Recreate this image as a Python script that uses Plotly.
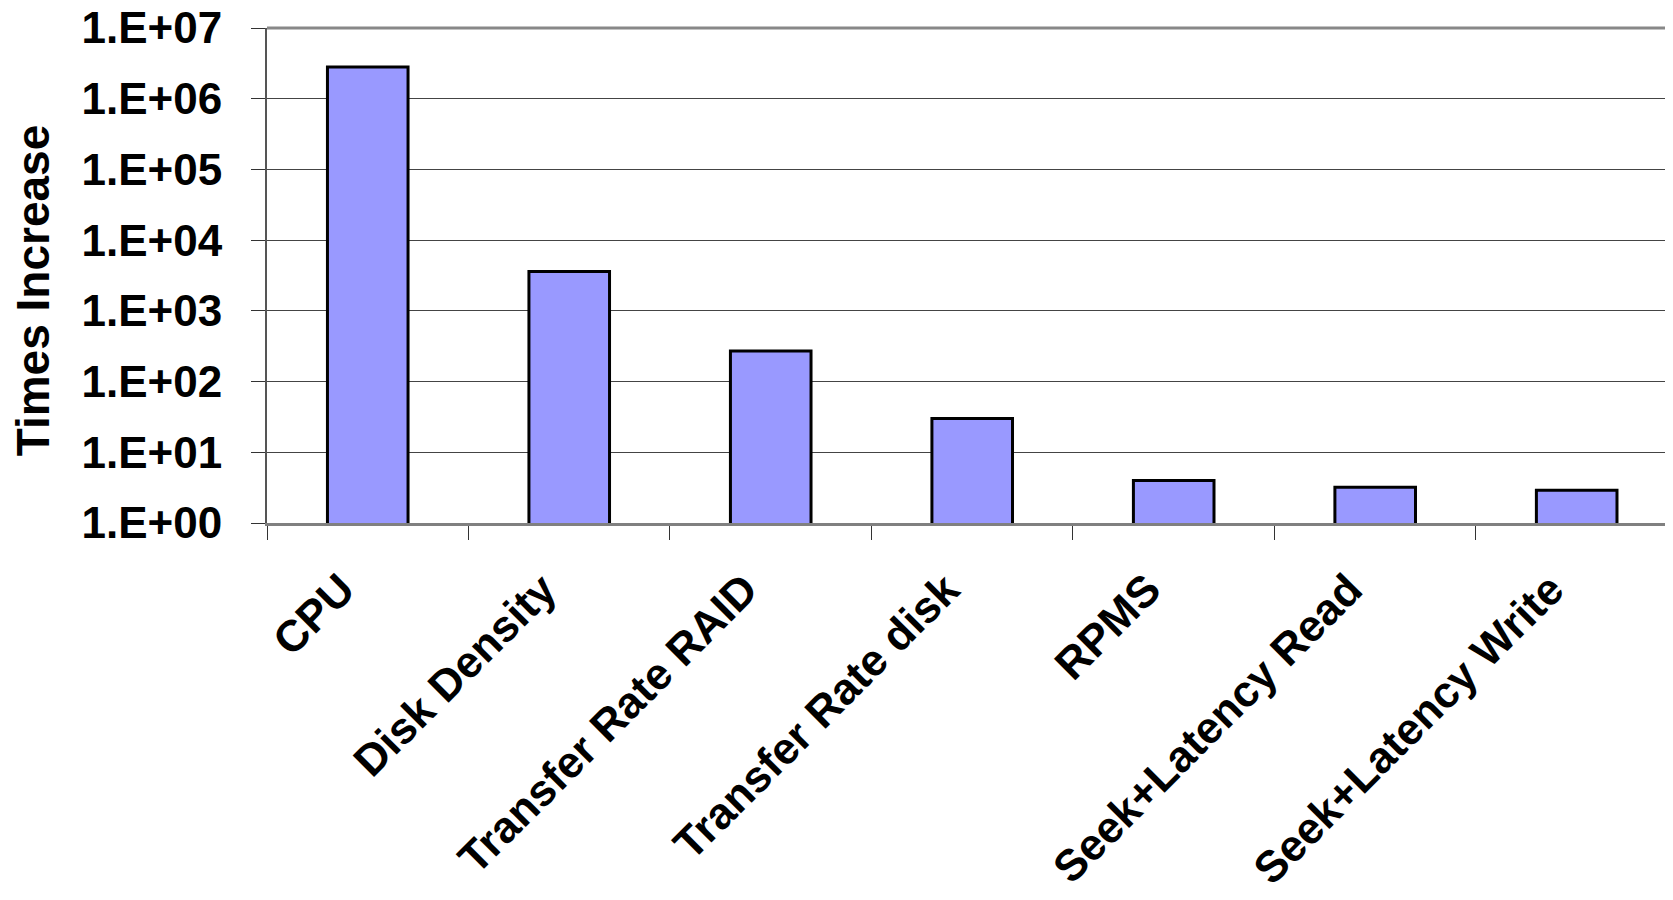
import plotly.graph_objects as go

categories = ["CPU", "Disk Density", "Transfer Rate RAID", "Transfer Rate disk",
              "RPMS", "Seek+Latency Read", "Seek+Latency Write"]
values = [2.8e6, 3600, 270, 30, 4.0, 3.2, 2.9]
y_tickvals = [1, 10, 100, 1e3, 1e4, 1e5, 1e6, 1e7]
y_ticktext = ["1.E+00", "1.E+01", "1.E+02", "1.E+03", "1.E+04", "1.E+05", "1.E+06", "1.E+07"]
y_title = "Times Increase"

FONT = "Liberation Sans, Arial, sans-serif"

fig = go.Figure()
fig.add_trace(go.Bar(
    x=categories, y=values,
    marker=dict(color="#9999FF", line=dict(color="black", width=3)),
))

fig.update_layout(
    width=1665, height=892,
    margin=dict(l=259, r=0, t=20, b=377),
    paper_bgcolor="white", plot_bgcolor="white",
    bargap=0.6, showlegend=False,
    font=dict(family=FONT, size=44, color="black", weight="bold"),
)
fig.update_xaxes(
    range=[-0.5, 6.478], automargin=False,
    tickangle=-45, tickson="boundaries", ticks="outside", ticklen=14,
    tickcolor="#333333", tickwidth=1,
    ticklabelstandoff=20, ticklabelshift=-26,
    showline=True, linecolor="#808080", linewidth=3,
    tickfont=dict(family=FONT, size=44, color="black", weight="bold"),
    showgrid=False,
)
fig.update_yaxes(
    type="log", range=[0, 7], automargin=False,
    tickvals=y_tickvals, ticktext=y_ticktext,
    ticks="outside", ticklen=14, tickcolor="#333333", tickwidth=1,
    ticklabelstandoff=20, ticklabeloverflow="allow",
    showline=True, linecolor="#555555", linewidth=2,
    showgrid=True, gridcolor="#444444", gridwidth=1,
    tickfont=dict(family=FONT, size=44, color="black", weight="bold"),
    zeroline=False,
)
# top border line (drawn heavier like the original)
fig.add_shape(type="line", xref="paper", yref="paper", x0=0, x1=1, y0=1, y1=1,
              line=dict(color="#888888", width=3))
fig.add_annotation(
    text=y_title, textangle=-90, xref="paper", yref="paper",
    x=(25 - 259) / 1406, y=0.47, xanchor="center", yanchor="middle", showarrow=False,
    font=dict(family=FONT, size=46, color="black", weight="bold"),
)

fig.write_html("out.html")
